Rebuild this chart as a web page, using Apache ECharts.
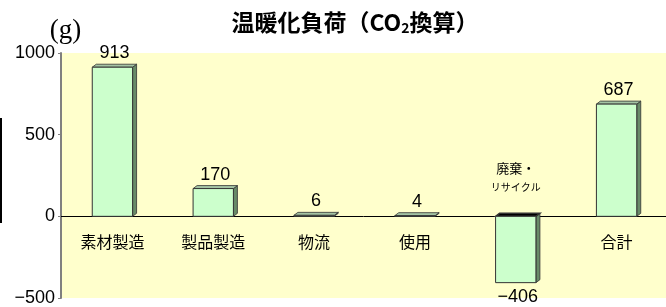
<!DOCTYPE html>
<html>
<head>
<meta charset="utf-8">
<script src="https://cdn.jsdelivr.net/npm/echarts@6/dist/echarts.min.js"></script>
<style>
  html, body { margin: 0; padding: 0; background: #fff; }
  #chart { width: 666px; height: 307px; }
</style>
</head>
<body>
<div id="chart"></div>
<script>
// chart data
var categories = ['素材製造', '製品製造', '物流', '使用', '廃棄・\nリサイクル', '合計'];
var values = [913, 170, 6, 4, -406, 687];
var yMin = -500, yMax = 1000, yStep = 500;

var NUM_FONT = '"Liberation Sans", Arial, sans-serif';
var JP_FONT = '"Noto Sans CJK JP", sans-serif';

function minus(v) {
    return String(v).replace('-', '\u2212');
}

// 3d-ish bar like the old excel charts
function renderItem(params, api) {
    var i = api.value(0);
    var v = api.value(1);
    var base = api.coord([i, 0]);
    var end = api.coord([i, v]);
    var bw = api.size([1, 0])[0] * 0.4;
    var cx = base[0] + 1;
    var l = cx - bw / 2, r = cx + bw / 2;
    var t = Math.min(base[1], end[1]);
    var b = Math.max(base[1], end[1]);
    var dx = 4, dy = 3;
    var neg = v < 0;

    var lines = categories[params.dataIndex].split('\n');
    var catText = neg
        ? lines.map(function (s, k) { return '{' + (k ? 'b' : 'a') + '|' + s + '}'; }).join('\n')
        : lines.join('\n');

    return {
        type: 'group',
        children: [
            {
                type: 'polygon',
                shape: {points: [[r, t], [r + dx, t - dy], [r + dx, b - dy], [r, b]]},
                style: {fill: '#688a68', stroke: '#333', lineWidth: 0.8}
            },
            {
                type: 'polygon',
                shape: {points: [[l, t], [l + dx, t - dy], [r + dx, t - dy], [r, t]]},
                style: {fill: neg ? '#000' : '#a4c4a4', stroke: '#333', lineWidth: neg ? 1.5 : 0.8}
            },
            {
                type: 'rect',
                shape: {x: l, y: t, width: r - l, height: b - t},
                style: {fill: '#ccffcc', stroke: '#333', lineWidth: 1}
            },
            {
                type: 'text',
                style: {
                    x: cx + 2, y: neg ? b + 5 : t - dy - 2,
                    text: minus(v),
                    align: 'center', verticalAlign: neg ? 'top' : 'bottom',
                    font: '18px ' + NUM_FONT, fill: '#000'
                }
            },
            {
                type: 'text',
                style: {
                    x: cx, y: neg ? base[1] - 20 : base[1] + 18,
                    text: catText,
                    align: 'center', verticalAlign: neg ? 'bottom' : 'top',
                    font: '16px ' + JP_FONT, fill: '#000',
                    rich: {
                        a: {fontSize: 13, fontFamily: 'Noto Sans CJK JP', lineHeight: 20},
                        b: {fontSize: 10, fontFamily: 'Noto Sans CJK JP', lineHeight: 18}
                    }
                }
            }
        ]
    };
}

var chart = echarts.init(document.getElementById('chart'));
chart.setOption({
    animation: false,
    title: {
        text: '温暖化負荷（CO{s|2}換算）',
        left: 350, top: 4, textAlign: 'center',
        textStyle: {
            fontFamily: JP_FONT, fontSize: 23, fontWeight: 'bold', color: '#000',
            rich: {
                s: {fontFamily: JP_FONT, fontSize: 14, fontWeight: 'bold', verticalAlign: 'bottom', padding: [12, 0, 0, 0]}
            }
        }
    },
    grid: {
        left: 61, right: -13, top: 53, bottom: 6,
        show: true, backgroundColor: '#ffffcc', borderWidth: 0
    },
    xAxis: {
        type: 'category',
        data: categories,
        axisLine: {onZero: true, lineStyle: {color: '#000', width: 1}},
        axisTick: {show: false},
        axisLabel: {show: false},
        splitLine: {show: false}
    },
    yAxis: {
        type: 'value',
        min: yMin, max: yMax, interval: yStep,
        name: '(g)',
        nameLocation: 'end',
        nameGap: 2,
        nameTextStyle: {
            fontFamily: '"Liberation Serif", serif', fontSize: 27, color: '#000',
            align: 'center', padding: [0, 0, 0, 9]
        },
        axisLine: {show: true, lineStyle: {color: '#808080', width: 2}},
        axisTick: {show: true, length: 3, lineStyle: {color: '#808080'}},
        axisLabel: {
            fontFamily: NUM_FONT, fontSize: 18, color: '#000', margin: 6,
            formatter: function (v) { return minus(v); }
        },
        splitLine: {show: false}
    },
    graphic: [
        {type: 'rect', shape: {x: 0, y: 118, width: 2, height: 105}, style: {fill: '#000'}}
    ],
    series: [{
        type: 'custom',
        renderItem: renderItem,
        data: values.map(function (v, i) { return [i, v]; }),
        z: 3
    }]
});
</script>
</body>
</html>
